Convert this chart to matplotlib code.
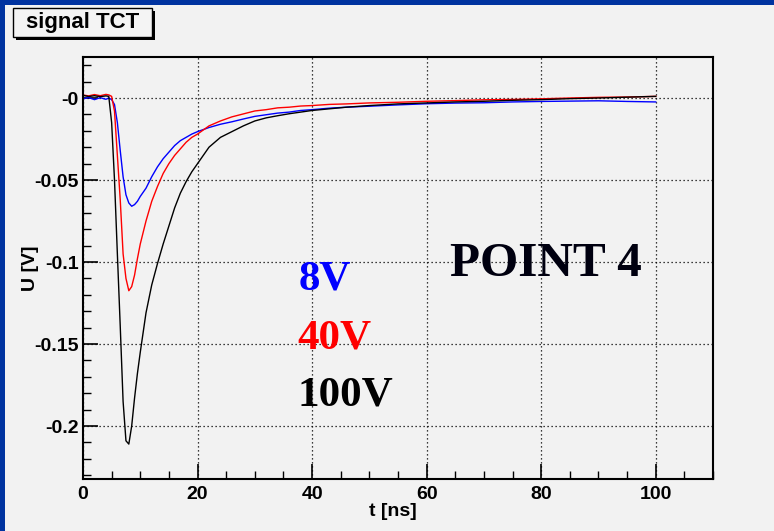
import matplotlib
matplotlib.use("Agg")
import matplotlib.pyplot as plt
from matplotlib.patches import Rectangle
from matplotlib.ticker import MultipleLocator

# ---- data ----
t_ns = [0, 1, 2, 3, 4, 4.5, 5, 5.5, 6, 6.5, 7, 7.5, 8, 8.5, 9, 9.5, 10,
        11, 12, 13, 14, 15, 16, 17, 18, 19, 20, 22, 24, 26, 28, 30, 32, 34,
        36, 38, 40, 43, 46, 50, 55, 60, 65, 70, 75, 80, 85, 90, 95, 100]

u_8V = [-0.0005, 0.0003, -0.001, 0.0002, -0.0008, 0.0, -0.001, -0.004, -0.015,
        -0.032, -0.048, -0.059, -0.064, -0.066, -0.065, -0.063, -0.060,
        -0.055, -0.048, -0.042, -0.037, -0.033, -0.029, -0.026, -0.024,
        -0.022, -0.0205, -0.018, -0.016, -0.0145, -0.0128, -0.0112, -0.0102,
        -0.0092, -0.0086, -0.0076, -0.0071, -0.0062, -0.0056, -0.005, -0.0042,
        -0.0035, -0.0031, -0.0029, -0.0024, -0.0021, -0.0019, -0.0017,
        -0.0021, -0.0024]

u_40V = [0.0018, 0.0013, 0.0021, 0.0014, 0.0022, 0.0019, 0.001, -0.008, -0.035,
         -0.062, -0.095, -0.110, -0.1175, -0.115, -0.108, -0.098, -0.089,
         -0.075, -0.063, -0.054, -0.046, -0.040, -0.035, -0.031, -0.027,
         -0.024, -0.022, -0.017, -0.014, -0.0115, -0.0097, -0.0079, -0.0071,
         -0.006, -0.0056, -0.0049, -0.0046, -0.0039, -0.0036, -0.003, -0.0026,
         -0.002, -0.0016, -0.0011, -0.0009, -0.0005, 0.0, 0.0004, 0.0006,
         0.001]

u_100V = [0.0016, 0.0009, 0.0014, 0.0008, 0.0013, 0.001, -0.015, -0.050, -0.095,
          -0.139, -0.185, -0.209, -0.211, -0.200, -0.183, -0.168, -0.155,
          -0.131, -0.114, -0.101, -0.089, -0.078, -0.067, -0.058, -0.051,
          -0.045, -0.040, -0.030, -0.024, -0.0205, -0.017, -0.014, -0.0121,
          -0.0108, -0.0096, -0.0086, -0.0076, -0.0066, -0.0056, -0.0046,
          -0.0036, -0.003, -0.0024, -0.002, -0.0014, -0.001, -0.0004, 0.0,
          0.0005, 0.001]

series_labels = ["8V", "40V", "100V"]
series_colors = ["#0000ff", "#ff0000", "#000000"]

x_ticks = [0, 20, 40, 60, 80, 100]
x_ticklabels = ["0", "20", "40", "60", "80", "100"]
y_ticks = [-0.2, -0.15, -0.1, -0.05, 0.0]
y_ticklabels = ["-0.2", "-0.15", "-0.1", "-0.05", "-0"]

# ---- figure ----
BG = "#f2f2f2"
fig = plt.figure(figsize=(7.74, 5.31), dpi=100, facecolor=BG)
W, H = 774, 531

# blue frame strips (top and left)
fig.patches.append(Rectangle((0, 1 - 5 / H), 1, 5 / H, transform=fig.transFigure,
                             facecolor="#0033a0", edgecolor="none", zorder=0))
fig.patches.append(Rectangle((0, 0), 5 / W, 1, transform=fig.transFigure,
                             facecolor="#0033a0", edgecolor="none", zorder=0))

ax = fig.add_axes([83 / W, 1 - 479 / H, (713 - 83) / W, (479 - 57) / H])
ax.set_facecolor(BG)

for y, c in zip([u_8V, u_40V, u_100V], series_colors):
    ax.plot(t_ns, y, color=c, lw=1.0)

ax.set_xlim(0, 110)
ax.set_ylim(-0.2323, 0.025)

ax.set_xticks(x_ticks)
ax.set_xticklabels(x_ticklabels)
ax.set_yticks(y_ticks)
ax.set_yticklabels(y_ticklabels)
ax.xaxis.set_minor_locator(MultipleLocator(5))
ax.yaxis.set_minor_locator(MultipleLocator(0.01))

for lab in ax.get_xticklabels() + ax.get_yticklabels():
    lab.set_fontfamily(["Liberation Sans", "DejaVu Sans"])
    lab.set_fontweight("bold")
    lab.set_fontsize(14)

ax.tick_params(which="both", direction="in", top=False, right=False, color="black")
ax.tick_params(which="major", length=11, width=1.2)
ax.tick_params(which="minor", length=5.5, width=1.0)
ax.tick_params(axis="x", which="major", pad=5)
ax.tick_params(axis="y", which="major", pad=3)

for s in ax.spines.values():
    s.set_linewidth(1.5)
    s.set_color("black")

ax.grid(True, which="major", color="black", linestyle=(0, (1, 2.2)), lw=0.9)

# axis titles
fig.text(393 / W, 1 - 512 / H, "t [ns]", ha="center", va="center",
         fontsize=14, fontweight="bold", family=["Liberation Sans", "DejaVu Sans"])
fig.text(31 / W, 1 - 268 / H, "U [V]", ha="center", va="center", rotation=90,
         fontsize=14, fontweight="bold", family=["Liberation Sans", "DejaVu Sans"])

# annotations
serif = ["Liberation Serif", "DejaVu Serif"]
label_pos = [(37.6, -0.117), (37.45, -0.1526), (37.45, -0.1872)]
for (tx, ty), lab, c in zip(label_pos, series_labels, series_colors):
    ax.text(tx, ty, lab, color=c, fontsize=31, fontweight="bold", family=serif,
            ha="left", va="baseline")
ax.text(64.0, -0.1085, "POINT 4", color="#000010", fontsize=35.5, fontweight="bold",
        family=serif, ha="left", va="baseline")

# title box with shadow
bx0, by0, bx1, by1 = 13, 8, 152, 37
fig.patches.append(Rectangle(((bx0 + 3) / W, 1 - (by1 + 3) / H), (bx1 - bx0) / W,
                             (by1 - by0) / H, transform=fig.transFigure,
                             facecolor="black", edgecolor="none", zorder=5))
fig.patches.append(Rectangle((bx0 / W, 1 - by1 / H), (bx1 - bx0) / W,
                             (by1 - by0) / H, transform=fig.transFigure,
                             facecolor="#f4f4f4", edgecolor="black", lw=1.0, zorder=6))
fig.text((bx0 + bx1) / 2 / W, 1 - (by0 + by1) / 2 / H, "signal TCT", ha="center",
         va="center", fontsize=16, fontweight="bold",
         family=["Liberation Sans", "DejaVu Sans"], zorder=7)

fig.savefig("out.png", dpi=100, facecolor=BG)
